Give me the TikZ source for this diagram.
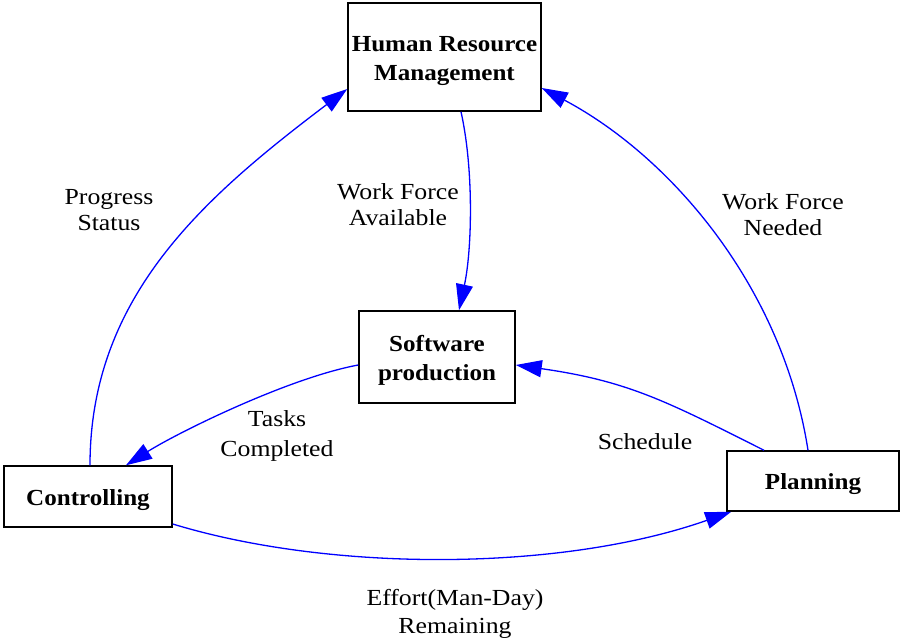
\documentclass[tikz,border=0pt]{standalone}
\usepackage{fontspec}
\setmainfont{Liberation Serif}
\newfontfamily\boxfont[FakeStretch=1.09]{Liberation Serif Bold}
\newfontfamily\flowfont[FakeStretch=1.12]{Liberation Serif}
\usetikzlibrary{arrows.meta}
% centred lines of a box title, set a little low in the box
\newcommand\boxtitle[1]{\raisebox{-3pt}[\height][\depth]{\begin{tabular}{@{}c@{}}#1\end{tabular}}}
\begin{document}
\begin{tikzpicture}[x=1pt,y=-1pt,
  box/.style={draw, line width=1.5pt, font=\fontsize{23}{29}\boxfont, inner sep=0pt},
  flow/.style={draw=blue, line width=1.3pt, -{Triangle[length=26pt,width=17pt]}},
  lbl/.style={font=\fontsize{23}{26}\flowfont, align=center}]
\useasboundingbox (0,0) rectangle (900,638);

% stocks / activities
\node[box, minimum width=193pt, minimum height=108pt] (hrm) at (444.5,57) {\boxtitle{Human Resource\\Management}};
\node[box, minimum width=156pt, minimum height=92pt] (sw) at (437,357) {\boxtitle{Software\\production}};
\node[box, minimum width=168pt, minimum height=61pt] (ctrl) at (88,496.5) {\boxtitle{Controlling}};
\node[box, minimum width=172pt, minimum height=60pt] (plan) at (813,481) {\boxtitle{Planning}};

% flows between them (the canvas y axis points up, so downward shifts are negative)
\draw[flow] ([xshift=2pt]ctrl.north) .. controls (90,297) and (203,198) .. ([yshift=-32pt]hrm.west);
\draw[flow] ([xshift=16.5pt]hrm.south) .. controls (474,170) and (472,250) .. ([xshift=22pt]sw.north);
\draw[flow] ([xshift=-5pt]plan.north) .. controls (783,289) and (673,158) .. ([yshift=-31pt]hrm.east);
\draw[flow] ([xshift=-49pt]plan.north) .. controls (666,401) and (628,381) .. ([yshift=-8pt]sw.east);
\draw[flow] ([yshift=-8pt]sw.west) .. controls (288,378) and (177,433) .. ([xshift=38pt]ctrl.north);
\draw[flow] ([yshift=-27.5pt]ctrl.east) .. controls (330,572) and (560,572) .. ([xshift=5pt]plan.south west);

% flow labels
\node[lbl] (l1) at (109,210) {Progress\\Status};
\node[lbl] (l2) at (398,205) {Work Force\\Available};
\node[lbl] (l3) at (783,215) {Work Force\\Needed};
\node[lbl] (l4) at (645,442) {Schedule};
\node[lbl] (l5) at (277,435.5) {Tasks\\[4pt]Completed};
\node[lbl] (l6) at (455,613.5) {Effort(Man-Day)\\[2pt]Remaining};
\end{tikzpicture}
\end{document}
